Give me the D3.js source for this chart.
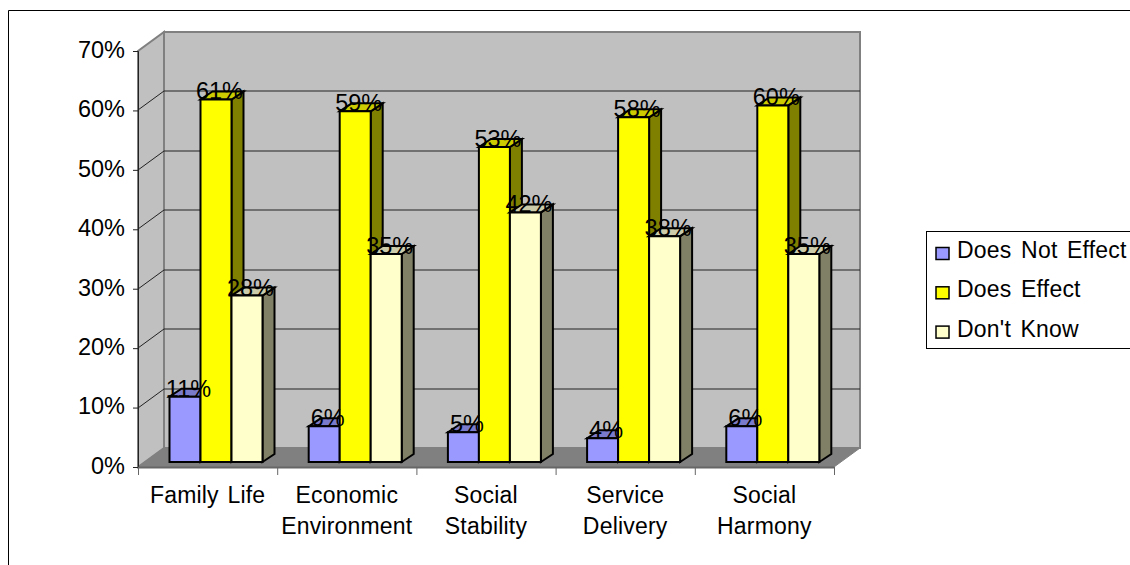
<!DOCTYPE html>
<html>
<head>
<meta charset="utf-8">
<script src="https://cdn.jsdelivr.net/npm/d3@7"></script>
<style>
html,body{margin:0;padding:0;background:#fff;overflow:hidden}
svg{display:block}
text{font-family:"Liberation Sans",Arial,sans-serif;fill:#000}
</style>
</head>
<body>
<svg id="chart" width="1130" height="565"></svg>
<script>
// Survey results per life domain, in percent
const categories = ["Family Life", "Economic Environment", "Social Stability", "Service Delivery", "Social Harmony"];
const categoryLines = [["Family Life"], ["Economic", "Environment"], ["Social", "Stability"], ["Service", "Delivery"], ["Social", "Harmony"]];
const seriesNames = ["Does Not Effect", "Does Effect", "Don't Know"];
const doesNotEffect = [11, 6, 5, 4, 6];
const doesEffect = [61, 59, 53, 58, 60];
const dontKnow = [28, 35, 42, 38, 35];
const yTicks = [0, 10, 20, 30, 40, 50, 60, 70];
const faceColors = ["#9999ff", "#ffff00", "#ffffcc"];
const topColors = ["#7a7acc", "#cccc00", "#ccccaa"];
const sideColors = ["#4d4d80", "#808000", "#808066"];

const series = [doesNotEffect, doesEffect, dontKnow];
const svg = d3.select("#chart");

// Frame around the chart area; its right and bottom edges run off the page
svg.append("path").attr("d", "M8.5,565V10.5H1130").attr("fill", "none").attr("stroke", "#000").attr("stroke-width", 1);

// Front plane of the pseudo-3D box and the depth offsets of wall and bars
const x = d3.scaleBand().domain(categories).range([138, 834]);
const y = d3.scaleLinear().domain([0, 70]).range([467, 51]);
const depth = { dx: 26, dy: -19 };
const barDepth = { dx: 12, dy: -8 };
const barInset = 31.5;
const barLift = -5;
const barGroup = 93;
const barX = d3.scaleBand().domain(d3.range(3)).range([0, barGroup]);

const poly = (pts, fill, stroke, sw) => svg.append("polygon")
  .attr("points", pts.map(p => p.join(",")).join(" "))
  .attr("fill", fill).attr("stroke", stroke || "none").attr("stroke-width", sw || 0)
  .attr("stroke-linejoin", "miter");

const x0 = x.range()[0], x1 = x.range()[1], y0 = y(0), yT = y(70);

// Walls and floor
poly([[x0, y0], [x0 + depth.dx, y0 + depth.dy], [x0 + depth.dx, yT + depth.dy], [x0, yT]], "#c0c0c0", "#808080", 2);
poly([[x0 + depth.dx, y0 + depth.dy], [x1 + depth.dx, y0 + depth.dy], [x1 + depth.dx, yT + depth.dy], [x0 + depth.dx, yT + depth.dy]], "#c0c0c0", "#808080", 2);
poly([[x0, y0], [x1, y0], [x1 + depth.dx, y0 + depth.dy], [x0 + depth.dx, y0 + depth.dy]], "#808080", "#808080", 1);

// Gridlines across the side and back walls
const grid = svg.append("g").attr("fill", "none").attr("stroke", "#222").attr("stroke-width", 1);
yTicks.filter(t => t > 0 && t < 70).forEach(t => {
  const yy = Math.round(y(t));
  grid.append("path").attr("d", `M${x0},${yy}L${x0 + depth.dx},${yy + depth.dy}H${x1 + depth.dx}`);
});

// Bars: side and top first, front face over them
const valueLabels = [];
categories.forEach((c, ci) => {
  series.forEach((vals, si) => {
    const v = vals[ci];
    const bx = x(c) + barInset + barX(si);
    const bw = barX.bandwidth();
    const by = y(v) + barLift;
    const b0 = y0 + barLift;
    const d = barDepth;
    poly([[bx + bw, by], [bx + bw + d.dx, by + d.dy], [bx + bw + d.dx, b0 + d.dy], [bx + bw, b0]], sideColors[si], "#000", 2);
    poly([[bx, by], [bx + d.dx, by + d.dy], [bx + bw + d.dx, by + d.dy], [bx + bw, by]], topColors[si], "#000", 2);
    poly([[bx, by], [bx + bw, by], [bx + bw, b0], [bx, b0]], faceColors[si], "#000", 2);
    valueLabels.push({ v, cx: bx + bw / 2 + 3.5, ty: by });
  });
});

// Value labels sit on top of every bar
svg.append("g").selectAll("text").data(valueLabels).join("text")
  .attr("x", d => d.cx).attr("y", d => d.ty)
  .attr("text-anchor", "middle").attr("font-size", 23.5)
  .attr("fill", "#111")
  .text(d => d.v + "%");

// Value axis
const yAxis = d3.axisLeft(y).tickValues(yTicks).tickFormat(d => d + "%").tickSize(5).tickPadding(8);
const gy = svg.append("g").attr("transform", `translate(${x0},0)`).call(yAxis);
gy.selectAll("text").attr("font-size", 23.5).attr("dy", "0.27em");
gy.selectAll("line,path").attr("stroke", "#222");

// Category axis with wrapped labels
const xEdges = d3.scaleLinear().domain([0, 5]).range([x0, x1]);
const xAxis = d3.axisBottom(xEdges).tickValues(d3.range(6)).tickFormat("").tickSize(8).tickSizeOuter(0);
const gx = svg.append("g").attr("transform", `translate(0,${y0})`).call(xAxis);
gx.selectAll("line").attr("stroke", "#666");
gx.select("path").attr("stroke", "#666").attr("stroke-width", 2);

const catLabels = svg.append("g").attr("text-anchor", "middle").attr("font-size", 23)
  .attr("letter-spacing", 0.2).attr("word-spacing", 2);
categories.forEach((c, i) => {
  categoryLines[i].forEach((line, j) => {
    catLabels.append("text")
      .attr("x", x(c) + x.bandwidth() / 2)
      .attr("y", 503 + j * 31)
      .text(line);
  });
});

// Legend, clipped by the right edge of the page
const legend = svg.append("g");
legend.append("rect").attr("x", 926.5).attr("y", 231.5).attr("width", 220).attr("height", 117)
  .attr("fill", "#fff").attr("stroke", "#000");
seriesNames.forEach((name, i) => {
  const top = 247.5 + i * 39.3;
  legend.append("rect").attr("x", 936).attr("y", top).attr("width", 13).attr("height", 12)
    .attr("fill", faceColors[i]).attr("stroke", "#000").attr("stroke-width", 1.5);
  legend.append("text").attr("x", 957).attr("y", top + 10.5).attr("font-size", 23)
    .attr("letter-spacing", 0.2).attr("word-spacing", 3).text(name);
});
</script>
</body>
</html>
